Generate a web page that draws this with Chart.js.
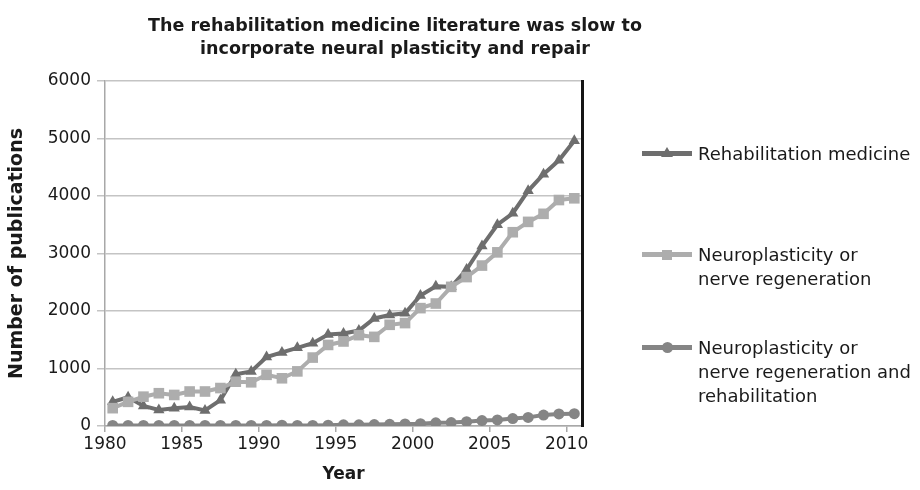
<!DOCTYPE html>
<html>

<head>
    <meta charset="utf-8">
    <script src="https://cdn.jsdelivr.net/npm/chart.js"></script>
    <title>Rehabilitation literature</title>
    <style>
        body {
            margin: 0;
            background: #fff;
            font-family: "DejaVu Sans", sans-serif;
            color: #1a1a1a;
        }

        #wrap {
            position: relative;
            width: 920px;
            height: 490px;
        }

        #title {
            position: absolute;
            left: 0;
            top: 14px;
            width: 790px;
            text-align: center;
            font-weight: bold;
            font-size: 17.5px;
            line-height: 23px;
        }

        .row {
            position: absolute;
            left: 642px;
            font-size: 18px;
            line-height: 24px;
        }

        .row .text {
            margin-left: 56px;
            white-space: nowrap;
        }

        .row .line {
            position: absolute;
            left: 0;
            top: 9px;
            width: 50px;
            height: 5px;
        }

        .row .mark {
            position: absolute;
        }
    </style>
</head>

<body>
    <div id="wrap">
        <canvas id="chart" width="920" height="490"></canvas>
        <div id="title">The rehabilitation medicine literature was slow to<br>incorporate neural plasticity and repair</div>
        <div id="legend"></div>
    </div>
    <script>
        const years = [1980, 1981, 1982, 1983, 1984, 1985, 1986, 1987, 1988, 1989,
            1990, 1991, 1992, 1993, 1994, 1995, 1996, 1997, 1998, 1999,
            2000, 2001, 2002, 2003, 2004, 2005, 2006, 2007, 2008, 2009, 2010]

        const rehab = [420, 500, 350, 280, 310, 330, 270, 450, 900, 950,
            1200, 1280, 1360, 1440, 1590, 1610, 1660, 1870, 1930, 1960,
            2270, 2430, 2420, 2720, 3130, 3500, 3700, 4090, 4380, 4620, 4960]

        const neuro = [310, 420, 510, 570, 540, 600, 600, 660, 770, 760,
            890, 830, 950, 1190, 1410, 1470, 1580, 1550, 1760, 1790,
            2050, 2130, 2420, 2590, 2790, 3020, 3370, 3550, 3690, 3930, 3960]

        const both = [10, 10, 10, 10, 10, 10, 10, 10, 10, 10,
            10, 15, 10, 10, 15, 20, 20, 25, 30, 35,
            40, 55, 60, 75, 95, 105, 130, 150, 190, 210, 215]

        const tickYears = [1980, 1985, 1990, 1995, 2000, 2005, 2010]
        const tickLabels = ['1980', '1985', '1990', '1995', '2000', '2005', '2010']

        const seriesNames = [
            ['Rehabilitation medicine'],
            ['Neuroplasticity or', 'nerve regeneration'],
            ['Neuroplasticity or', 'nerve regeneration and', 'rehabilitation']
        ]

        const colors = ['#6e6e6e', '#adadad', '#858585']
        const shapes = ['triangle', 'rect', 'circle']

        function points(values) {
            return values.map(function (v, i) {
                return { x: years[i], y: v }
            })
        }

        const font = 'DejaVu Sans'

        const ctx = document.getElementById('chart')
        new Chart(ctx, {
            type: 'line',
            data: {
                datasets: [{
                    label: seriesNames[0].join(' '),
                    data: points(rehab),
                    borderColor: colors[0],
                    backgroundColor: colors[0],
                    borderWidth: 4,
                    pointStyle: 'triangle',
                    pointRadius: 6.5,
                    pointBorderWidth: 0,
                    order: 3
                }, {
                    label: seriesNames[1].join(' '),
                    data: points(neuro),
                    borderColor: colors[1],
                    backgroundColor: colors[1],
                    borderWidth: 4,
                    pointStyle: 'rect',
                    pointRadius: 7.5,
                    pointBorderWidth: 0,
                    order: 2
                }, {
                    label: seriesNames[2].join(' '),
                    data: points(both),
                    borderColor: colors[2],
                    backgroundColor: colors[2],
                    borderWidth: 4,
                    pointStyle: 'circle',
                    pointRadius: 5.5,
                    pointBorderWidth: 0,
                    order: 1
                }]
            },
            options: {
                responsive: false,
                animation: false,
                devicePixelRatio: 1,
                layout: {
                    padding: { top: 81, right: 335, left: 0, bottom: 0 }
                },
                plugins: {
                    legend: { display: false },
                    title: { display: false },
                    tooltip: { enabled: false }
                },
                scales: {
                    x: {
                        type: 'linear',
                        min: 1979.5,
                        max: 2010.5,
                        afterBuildTicks: function (scale) {
                            scale.ticks = tickYears.map(function (y) {
                                return { value: y - 0.5 }
                            })
                        },
                        afterFit: function (scale) {
                            scale.height = 64
                        },
                        ticks: {
                            autoSkip: false,
                            maxRotation: 0,
                            padding: 2,
                            color: '#1a1a1a',
                            font: { family: font, size: 17 },
                            callback: function (value, index) {
                                return tickLabels[index]
                            }
                        },
                        grid: {
                            drawOnChartArea: false,
                            tickLength: 6,
                            color: '#a8a8a8',
                            lineWidth: 1.5
                        },
                        border: { color: '#a8a8a8', width: 1.5 },
                        title: {
                            display: true,
                            text: 'Year',
                            color: '#1a1a1a',
                            font: { family: font, size: 17, weight: 'bold' },
                            padding: { top: 0, bottom: 5 }
                        }
                    },
                    y: {
                        min: 0,
                        max: 6000,
                        afterFit: function (scale) {
                            scale.width = 105
                        },
                        ticks: {
                            stepSize: 1000,
                            padding: 6,
                            color: '#1a1a1a',
                            font: { family: font, size: 17 },
                            callback: function (value) {
                                return String(value)
                            }
                        },
                        grid: {
                            color: '#c4c4c4',
                            lineWidth: 1.5,
                            tickLength: 8
                        },
                        border: { color: '#a8a8a8', width: 1.5 },
                        title: {
                            display: true,
                            text: 'Number of publications',
                            color: '#1a1a1a',
                            font: { family: font, size: 19, weight: 'bold' },
                            padding: { top: 6, bottom: 0 }
                        }
                    },
                    y2: {
                        position: 'right',
                        min: 0,
                        max: 6000,
                        afterFit: function (scale) {
                            scale.width = 3
                        },
                        ticks: { display: false },
                        grid: { drawOnChartArea: false, drawTicks: false },
                        border: { color: '#151515', width: 3 }
                    }
                }
            }
        })

        // legend drawn as html so the wrapped labels keep their spacing
        const rowTops = [142, 243, 336]
        const legend = document.getElementById('legend')
        seriesNames.forEach(function (lines, i) {
            const row = document.createElement('div')
            row.className = 'row'
            row.style.top = rowTops[i] + 'px'

            const line = document.createElement('div')
            line.className = 'line'
            line.style.background = colors[i]
            row.appendChild(line)

            const mark = document.createElement('div')
            mark.className = 'mark'
            mark.style.background = colors[i]
            if (shapes[i] === 'triangle') {
                mark.style.width = '12px'
                mark.style.height = '10px'
                mark.style.left = '19px'
                mark.style.top = '5px'
                mark.style.clipPath = 'polygon(50% 0, 100% 100%, 0 100%)'
            } else if (shapes[i] === 'rect') {
                mark.style.width = '10px'
                mark.style.height = '10px'
                mark.style.left = '20px'
                mark.style.top = '6.5px'
            } else {
                mark.style.width = '11px'
                mark.style.height = '11px'
                mark.style.left = '19.5px'
                mark.style.top = '6px'
                mark.style.borderRadius = '50%'
            }
            row.appendChild(mark)

            const text = document.createElement('div')
            text.className = 'text'
            text.innerHTML = lines.join('<br>')
            row.appendChild(text)

            legend.appendChild(row)
        })
    </script>
</body>

</html>
